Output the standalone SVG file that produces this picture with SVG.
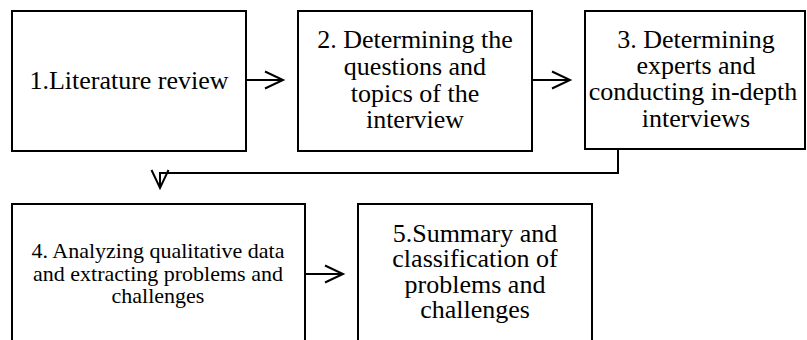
<svg xmlns="http://www.w3.org/2000/svg" width="807" height="340" viewBox="0 0 807 340">
<style>
.box{fill:#fff;stroke:#000;stroke-width:2}
.t{font-family:"Liberation Serif","Times New Roman",serif;font-size:26px;fill:#000;text-anchor:middle}
.s{font-size:22px}
.c{fill:none;stroke:#000;stroke-width:2}
</style>
<defs>
<marker id="arr" markerUnits="userSpaceOnUse" markerWidth="24" markerHeight="24" viewBox="-20 -12 24 24" refX="0" refY="0" orient="auto">
<path d="M-18,-8.5 L0,0 L-18,8.5" fill="none" stroke="#000" stroke-width="2"/>
</marker>
</defs>
<g id="n1"><rect class="box" x="12" y="11" width="234" height="140"/>
<text class="t" x="129" y="89">1.Literature review</text></g>
<g id="n2"><rect class="box" x="298" y="11" width="234" height="140"/>
<text class="t" x="415" y="48">2. Determining the</text>
<text class="t" x="415" y="75">questions and</text>
<text class="t" x="415" y="101.5">topics of the</text>
<text class="t" x="415" y="128">interview</text></g>
<g id="n3"><rect class="box" x="585" y="11" width="220" height="138"/>
<text class="t" x="696" y="48">3. Determining</text>
<text class="t" x="696" y="74">experts and</text>
<text class="t" x="693" y="100">conducting in-depth</text>
<text class="t" x="696" y="126.5">interviews</text></g>
<g id="n4"><rect class="box" x="12" y="204" width="293" height="150"/>
<text class="t s" x="158" y="258">4. Analyzing qualitative data</text>
<text class="t s" x="158" y="280.5">and extracting problems and</text>
<text class="t s" x="158" y="302.5">challenges</text></g>
<g id="n5"><rect class="box" x="358" y="204" width="234" height="150"/>
<text class="t" x="475" y="241.5">5.Summary and</text>
<text class="t" x="475" y="266.5">classification of</text>
<text class="t" x="475" y="292.5">problems and</text>
<text class="t" x="475" y="318">challenges</text></g>
<g id="connectors">
<path class="c" d="M246,80 H283" marker-end="url(#arr)"/>
<path class="c" d="M532,80 H570" marker-end="url(#arr)"/>
<path class="c" d="M618,149 V173 H160 V188" marker-end="url(#arr)"/>
<path class="c" d="M305,274 H343" marker-end="url(#arr)"/>
</g>
</svg>
